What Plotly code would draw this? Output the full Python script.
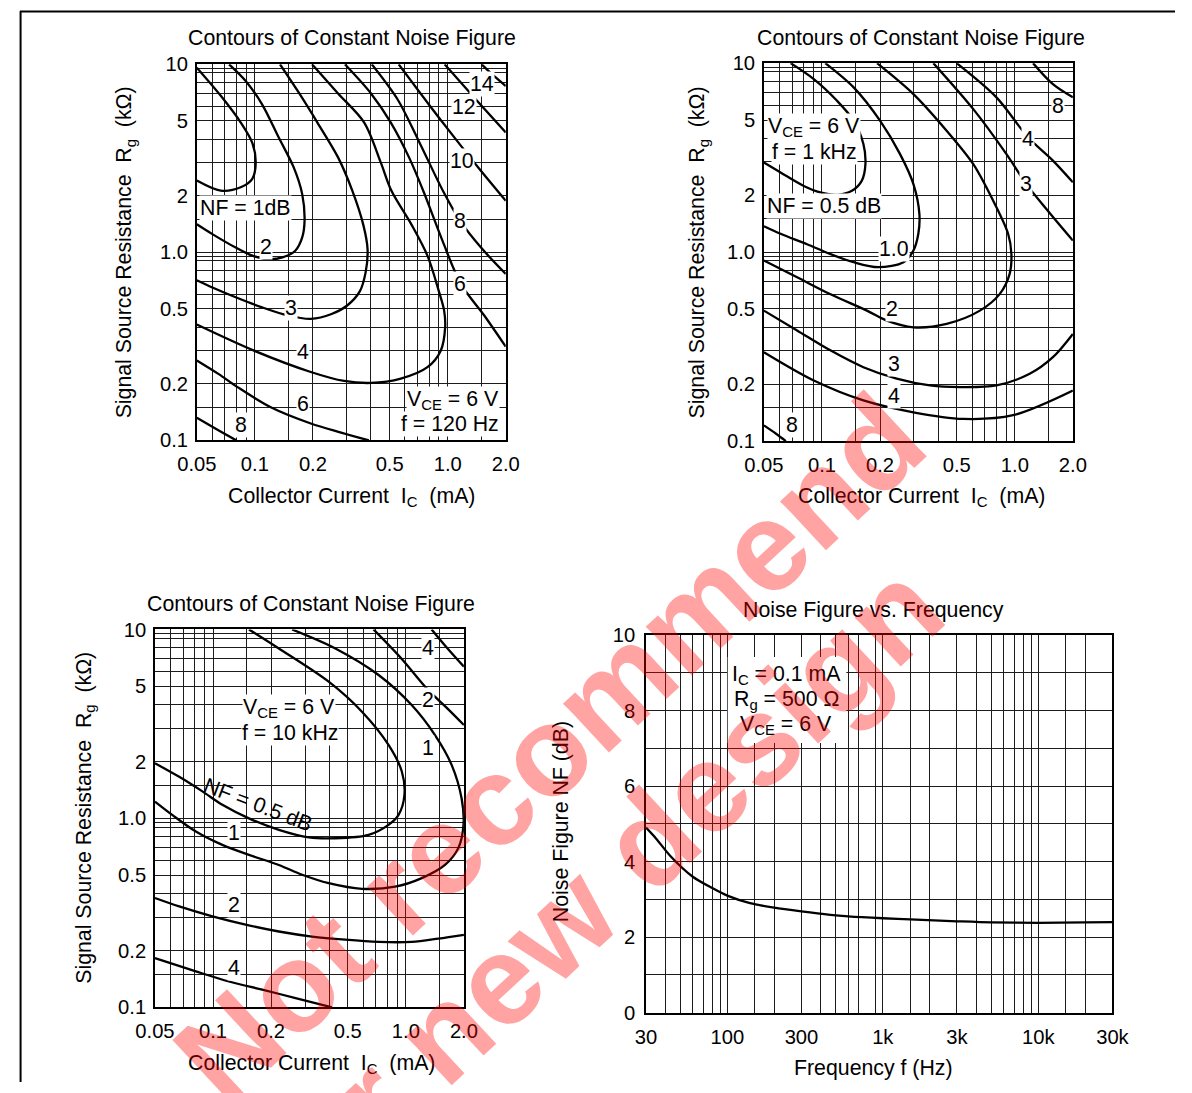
import numpy as np
import plotly.graph_objects as go

W, H = 1192, 1093
FONT = "Liberation Sans, Arial, Helvetica, sans-serif"

# The page is photographed with a small padding; positions below are given in
# reference-picture pixels and mapped to figure paper coordinates.
SX, OX = 0.9722, 16.9
SY, OY = 0.9811, 10.1
FS = 20.2    # tick labels
FT = 21.3    # titles and in-plot text

def fx(x):
    return (x - OX) / SX / W

def fy(y):
    return 1 - (y - OY) / SY / H

# ---------------- axis tick / grid values ----------------
ic_major = [0.05, 0.1, 0.2, 0.5, 1.0, 2.0]
ic_major_text = ["0.05", "0.1", "0.2", "0.5", "1.0", "2.0"]
ic_minor = [0.06, 0.07, 0.08, 0.09, 0.15, 0.3, 0.4, 0.6, 0.7, 0.8, 0.9, 1.5]
rg_major = [0.1, 0.2, 0.5, 1.0, 2, 5, 10]
rg_major_text = ["0.1", "0.2", "0.5", "1.0", "2", "5", "10"]
rg_minor = [0.15, 0.3, 0.4, 0.6, 0.7, 0.8, 0.9, 0.95, 1.5, 3, 4, 6, 7, 8, 9, 9.5]
f_major = [30, 100, 300, 1000, 3000, 10000, 30000]
f_major_text = ["30", "100", "300", "1k", "3k", "10k", "30k"]
f_minor = [40, 50, 60, 70, 80, 90, 150, 200, 400, 500, 600, 700, 900,
           1500, 2000, 4000, 5000, 6000, 7000, 8000, 9000, 15000, 20000]
nf_major = [0, 2, 4, 6, 8, 10]
nf_minor = [1, 3, 5, 7, 9]

# ---------------- contour data (Ic mA, Rg kOhm) ----------------
# f = 120 Hz
c120_nf1 = [(0.05, 9.6), (0.0666, 6.8), (0.0845, 4.9), (0.0972, 3.8), (0.101, 3.0),
            (0.097, 2.46), (0.0845, 2.22), (0.0666, 2.13), (0.05, 2.41)]
c120_nf2 = [(0.0735, 10), (0.0896, 8.16), (0.109, 6.13), (0.133, 4.08), (0.159, 2.83),
            (0.176, 2.04), (0.181, 1.47), (0.176, 1.2), (0.162, 1.02), (0.139, 0.94),
            (0.118, 0.92), (0.097, 0.96), (0.0795, 1.06), (0.0602, 1.25), (0.05, 1.41)]
c120_nf3 = [(0.135, 10), (0.17, 7.0), (0.211, 4.9), (0.27, 3.2), (0.32, 2.13),
            (0.365, 1.4), (0.384, 1.04), (0.375, 0.78), (0.35, 0.62), (0.3, 0.52),
            (0.25, 0.47), (0.195, 0.443), (0.15, 0.46), (0.109, 0.51), (0.0795, 0.577),
            (0.0602, 0.65), (0.05, 0.71)]
c120_nf4 = [(0.198, 10), (0.27, 7.0), (0.369, 4.9), (0.45, 3.0), (0.51, 2.13),
            (0.65, 1.4), (0.785, 0.96), (0.9, 0.62), (0.958, 0.49), (0.97, 0.40),
            (0.92, 0.30), (0.785, 0.245), (0.571, 0.213), (0.4, 0.202), (0.29, 0.207),
            (0.195, 0.231), (0.099, 0.30), (0.05, 0.413)]
c120_nf6_hi = [(0.293, 10), (0.4, 7.0), (0.507, 4.9), (0.63, 3.2), (0.75, 2.1),
               (0.94, 1.15), (1.17, 0.68), (1.55, 0.46), (2.0, 0.315)]
c120_nf6_lo = [(0.05, 0.266), (0.065, 0.225), (0.0813, 0.192), (0.121, 0.150),
               (0.195, 0.123), (0.28, 0.11), (0.39, 0.10)]
c120_nf8_hi = [(0.404, 10), (0.55, 6.5), (0.7, 4.0), (0.95, 2.1), (1.16, 1.47),
               (1.5, 1.05), (2.0, 0.767)]
c120_nf8_lo = [(0.05, 0.132), (0.065, 0.113), (0.08, 0.1)]
c120_nf10 = [(0.557, 10), (0.8, 6.1), (1.1, 4.0), (1.45, 2.8), (2.0, 1.88)]
c120_nf12 = [(0.964, 10), (1.4, 6.5), (2.0, 4.34)]
c120_nf14 = [(1.5, 10), (1.73, 8.7), (2.0, 7.67)]

# f = 1 kHz
c1k_nf05 = [(0.0687, 10), (0.0907, 8.23), (0.1197, 6.32), (0.146, 4.96), (0.164, 3.73),
            (0.168, 2.92), (0.161, 2.39), (0.143, 2.11), (0.12, 2.01), (0.098, 2.07),
            (0.0805, 2.24), (0.061, 2.64), (0.05, 2.98)]
c1k_nf1 = [(0.104, 10), (0.146, 7.44), (0.2, 4.96), (0.254, 3.3), (0.298, 2.29),
           (0.32, 1.59), (0.316, 1.25), (0.298, 1.02), (0.2645, 0.884), (0.196, 0.832),
           (0.146, 0.884), (0.11, 0.978), (0.0837, 1.1), (0.061, 1.25), (0.05, 1.37)]
c1k_nf2 = [(0.193, 10), (0.298, 6.86), (0.443, 4.39), (0.609, 2.92), (0.772, 1.87),
           (0.923, 1.25), (0.96, 0.978), (0.94, 0.767), (0.836, 0.601), (0.659, 0.49),
           (0.443, 0.417), (0.298, 0.40), (0.217, 0.434), (0.171, 0.49), (0.11, 0.60),
           (0.0743, 0.736), (0.05, 0.902)]
c1k_nf3_hi = [(0.378, 10), (0.609, 5.71), (0.905, 3.3), (1.148, 2.29), (1.457, 1.69), (2.0, 1.15)]
c1k_nf4_hi = [(0.499, 10), (0.803, 6.59), (1.171, 4.05), (1.576, 3.05), (2.0, 2.34)]
c1k_nf8_hi = [(1.243, 10), (1.576, 7.74), (2.0, 6.59)]
c1k_nf3_lo = [(0.05, 0.49), (0.0743, 0.385), (0.1105, 0.302), (0.164, 0.246), (0.244, 0.214),
              (0.363, 0.197), (0.519, 0.193), (0.803, 0.197), (1.194, 0.227), (1.576, 0.278),
              (2.0, 0.369)]
c1k_nf4_lo = [(0.05, 0.295), (0.0907, 0.209), (0.164, 0.164), (0.298, 0.142), (0.54, 0.131),
              (0.98, 0.137), (2.0, 0.185)]
c1k_nf8_lo = [(0.05, 0.121), (0.058, 0.109), (0.065, 0.1)]

# f = 10 kHz
c10k_nf05 = [(0.1536, 10), (0.2195, 7.93), (0.398, 5.29), (0.592, 3.67), (0.813, 2.45),
             (0.953, 1.77), (0.983, 1.33), (0.915, 1.04), (0.813, 0.924), (0.641, 0.818),
             (0.431, 0.785), (0.314, 0.793), (0.2195, 0.869), (0.1536, 1.0), (0.1118, 1.18),
             (0.0881, 1.39), (0.0668, 1.66), (0.05, 1.96)]
c10k_nf1 = [(0.05, 1.227), (0.0617, 1.04), (0.0815, 0.852), (0.1118, 0.724), (0.1536, 0.641),
            (0.2195, 0.567), (0.29, 0.503), (0.398, 0.454), (0.592, 0.424), (0.88, 0.435),
            (1.209, 0.483), (1.595, 0.567), (1.87, 0.696), (1.99, 0.924), (1.945, 1.278),
            (1.727, 1.92), (1.416, 2.76), (1.072, 3.98), (0.722, 5.74), (0.431, 7.93),
            (0.257, 10)]
c10k_nf2_hi = [(0.68, 10), (0.95, 7.0), (1.3, 4.8), (1.65, 3.8), (2.0, 3.12)]
c10k_nf4_hi = [(1.36, 10), (1.65, 7.9), (2.0, 6.35)]
c10k_nf2_lo = [(0.05, 0.379), (0.0668, 0.342), (0.0993, 0.303), (0.1476, 0.274),
               (0.2195, 0.252), (0.326, 0.237), (0.485, 0.228), (0.722, 0.222),
               (1.072, 0.222), (1.473, 0.231), (2.0, 0.242)]
c10k_nf4_lo = [(0.05, 0.182), (0.0815, 0.155), (0.121, 0.137), (0.18, 0.124),
               (0.268, 0.112), (0.414, 0.1)]

# noise figure vs frequency
freq_hz = [30, 35, 43, 60, 80, 100, 140, 200, 300, 460, 600, 1000, 1500, 3000, 5000,
           10000, 20000, 30000]
nf_db = [4.9, 4.6, 4.15, 3.6, 3.3, 3.1, 2.9, 2.78, 2.68, 2.59, 2.55, 2.5, 2.47, 2.42,
         2.39, 2.38, 2.39, 2.40]

# curve labels (text, Ic, Rg)
lab120 = [("14", 1.5, 7.85), ("12", 1.216, 5.95), ("10", 1.18, 3.07), ("8", 1.157, 1.47),
          ("6", 1.157, 0.68), ("2", 0.114, 1.07), ("3", 0.154, 0.507), ("4", 0.177, 0.295),
          ("6", 0.177, 0.157), ("8", 0.0845, 0.120)]
lab1k = [("8", 1.67, 5.95), ("4", 1.171, 3.96), ("3", 1.148, 2.29), ("1.0", 0.235, 1.04),
         ("2", 0.23, 0.50), ("3", 0.235, 0.256), ("4", 0.235, 0.174), ("8", 0.07, 0.121)]
lab10k = [("4", 1.308, 7.93), ("2", 1.308, 4.22), ("1", 1.308, 2.35), ("1", 0.1285, 0.835),
          ("2", 0.1285, 0.346), ("4", 0.1285, 0.161)]

# ---------------- layout geometry (reference pixels) ----------------
PLOTS = {
    1: (194.3, 504.3, 63.5, 440.0),
    2: (763.3, 1073.3, 62.3, 440.7),
    3: (152.3, 462.3, 629.3, 1007.7),
    4: (645.0, 1113.0, 635.0, 1013.0),
}

fig = go.Figure()
GRID = "#1c1c1c"

def axis(kind, domain, rng, tv, tt, minor, anchor, ticklen):
    d = dict(domain=domain, range=rng, anchor=anchor, tickmode="array", tickvals=tv, ticktext=tt,
             showgrid=True, gridcolor=GRID, gridwidth=1, showline=True, linecolor="black",
             linewidth=1.5, mirror=True, ticks="outside", ticklen=ticklen,
             tickcolor="rgba(0,0,0,0)", zeroline=False, fixedrange=True,
             tickfont=dict(family=FONT, size=FS, color="black"),
             minor=dict(tickmode="array", tickvals=minor, showgrid=True, gridcolor=GRID,
                        gridwidth=1, ticks=""))
    if kind == "log":
        d["type"] = "log"
    return d

lay = {}
for i in (1, 2, 3, 4):
    x0, x1, y0, y1 = PLOTS[i]
    sx = "" if i == 1 else str(i)
    xd = [fx(x0), fx(x1)]
    yd = [fy(y1), fy(y0)]
    if i < 4:
        lay["xaxis" + sx] = axis("log", xd, [np.log10(0.05), np.log10(2.0)],
                                 ic_major, ic_major_text, ic_minor, "y" + sx, 5)
        lay["yaxis" + sx] = axis("log", yd, [-1, 1], rg_major, rg_major_text,
                                 rg_minor, "x" + sx, 3)
    else:
        lay["xaxis4"] = axis("log", xd, [np.log10(30), np.log10(30000)], f_major,
                             f_major_text, f_minor, "y4", 5)
        lay["yaxis4"] = axis("lin", yd, [0, 10], nf_major, [str(v) for v in nf_major],
                             nf_minor, "x4", 5)

def curve(pts, i):
    sx = "" if i == 1 else str(i)
    xs = [p[0] for p in pts]
    ys = [p[1] for p in pts]
    fig.add_trace(go.Scatter(x=xs, y=ys, mode="lines", xaxis="x" + sx, yaxis="y" + sx,
                             line=dict(color="black", width=2.3, shape="spline", smoothing=0.9),
                             showlegend=False, hoverinfo="skip"))

for c in [c120_nf1, c120_nf2, c120_nf3, c120_nf4, c120_nf6_hi, c120_nf6_lo, c120_nf8_hi,
          c120_nf8_lo, c120_nf10, c120_nf12, c120_nf14]:
    curve(c, 1)
for c in [c1k_nf05, c1k_nf1, c1k_nf2, c1k_nf3_hi, c1k_nf4_hi, c1k_nf8_hi, c1k_nf3_lo,
          c1k_nf4_lo, c1k_nf8_lo]:
    curve(c, 2)
for c in [c10k_nf05, c10k_nf1, c10k_nf2_hi, c10k_nf4_hi, c10k_nf2_lo, c10k_nf4_lo]:
    curve(c, 3)
fig.add_trace(go.Scatter(x=freq_hz, y=nf_db, mode="lines", xaxis="x4", yaxis="y4",
                         line=dict(color="black", width=2.3, shape="spline", smoothing=0.8),
                         showlegend=False, hoverinfo="skip"))

ann = []

def dlabel(text, ic, rg, i, xanchor="center", bg="white", angle=0, size=FT):
    sx = "" if i == 1 else str(i)
    ann.append(dict(text=text, x=np.log10(ic), y=np.log10(rg), xref="x" + sx, yref="y" + sx,
                    showarrow=False, xanchor=xanchor, yanchor="middle", bgcolor=bg,
                    borderpad=0, textangle=angle,
                    font=dict(family=FONT, size=size, color="black")))

for t, a, b in lab120:
    dlabel(t, a, b, 1)
for t, a, b in lab1k:
    dlabel(t, a, b, 2)
for t, a, b in lab10k:
    dlabel(t, a, b, 3)
dlabel("NF = 1dB", 0.0515, 1.72, 1, xanchor="left")
dlabel("V<sub>CE</sub> = 6 V", 1.86, 0.163, 1, xanchor="right")
dlabel("f = 120 Hz", 1.86, 0.122, 1, xanchor="right")
dlabel("NF = 0.5 dB", 0.0512, 1.76, 2, xanchor="left")
dlabel("V<sub>CE</sub> = 6 V", 0.091, 4.6, 2)
dlabel("f = 1 kHz", 0.091, 3.37, 2)
dlabel("V<sub>CE</sub> = 6 V", 0.247, 3.85, 3)
dlabel("f = 10 kHz", 0.25, 2.82, 3)
dlabel("NF = 0.5 dB", 0.172, 1.18, 3, bg="rgba(0,0,0,0)", angle=21)

# condition box of the frequency plot
cond_lines = ["I<sub>C</sub> = 0.1 mA", "R<sub>g</sub> = 500 Ω", "V<sub>CE</sub> = 6 V"]
cond_y = [8.94, 8.28, 7.62]
for t, yv in zip(cond_lines, cond_y):
    ann.append(dict(text=t, x=np.log10(240), y=yv, xref="x4", yref="y4", showarrow=False,
                    xanchor="center", yanchor="middle",
                    font=dict(family=FONT, size=FT, color="black")))

def plabel(text, x, y, angle=0):
    ann.append(dict(text=text, x=fx(x), y=fy(y), xref="paper", yref="paper",
                    showarrow=False, xanchor="center", yanchor="middle", textangle=angle,
                    font=dict(family=FONT, size=FT, color="black")))

NB = "\u00a0"
for cx, ty, xy, yx, cy in [(350, 37, 497, 122, 252), (921, 37, 497, 697, 252),
                           (309, 604, 1064, 82, 818)]:
    plabel("Contours of Constant Noise Figure", cx, ty)
    plabel("Collector Current" + NB + NB + "I<sub>C</sub>" + NB + NB + "(mA)", cx, xy)
    plabel("Signal Source Resistance" + NB + NB + "R<sub>g</sub>" + NB + NB + "(kΩ)", yx, cy, -90)
plabel("Noise Figure vs. Frequency", 873, 610)
plabel("Frequency f (Hz)", 873, 1068)
plabel("Noise Figure NF (dB)", 560, 822, -90)

# watermark
WM = "rgba(255,0,0,0.36)"
for text, x, y in [("Not recommend", 548, 748), ("for new design", 592, 893)]:
    ann.append(dict(text="<b>" + text + "</b>", x=fx(x), y=fy(y), xref="paper", yref="paper",
                    showarrow=False, xanchor="center", yanchor="middle", textangle=-43,
                    font=dict(family=FONT, size=127, color=WM)))

shapes = [
    dict(type="rect", xref="paper", yref="paper", x0=fx(727), x1=fx(846), y0=fy(743), y1=fy(657),
         fillcolor="white", line=dict(width=0), layer="above"),
    dict(type="line", xref="paper", yref="paper", x0=0.0, x1=1.0, y0=0.9995, y1=0.9995,
         line=dict(color="black", width=2)),
    dict(type="line", xref="paper", yref="paper", x0=0.0005, x1=0.0005, y0=0, y1=1,
         line=dict(color="black", width=2)),
]

fig.update_layout(width=W, height=H, margin=dict(l=0, r=0, t=0, b=0),
                  paper_bgcolor="white", plot_bgcolor="white", showlegend=False,
                  annotations=ann, shapes=shapes, font=dict(family=FONT, size=FS, color="black"),
                  **lay)
fig.write_html("out.html", config={"displayModeBar": False})
